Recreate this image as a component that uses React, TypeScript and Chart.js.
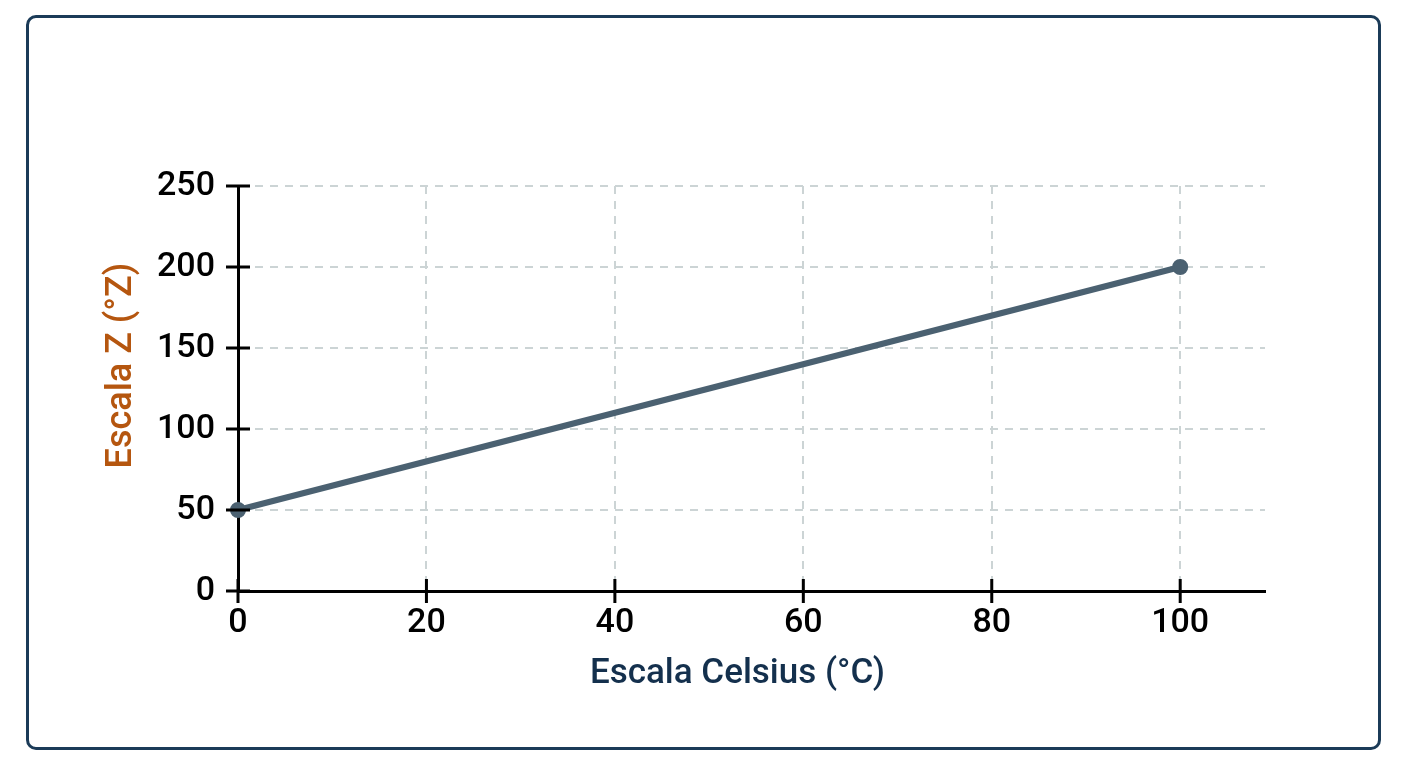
import React, { useEffect, useRef } from "react";
import { Chart, registerables } from "chart.js";

Chart.register(...registerables);

const celsius = [0, 100];
const zScale = [50, 200];
const xTicksMax = 109;
const yTicksMax = 250;
const xTitle = "Escala Celsius (°C)";
const yTitle = "Escala Z (°Z)";

const FONT = "Roboto, 'Noto Sans', sans-serif";

const crossTicks = {
  id: "crossTicks",
  afterDraw(chart: any) {
    const ctx = chart.ctx;
    const xs = chart.scales.x;
    const ys = chart.scales.y;
    const ca = chart.chartArea;
    ctx.save();
    ctx.strokeStyle = "#000";
    ctx.lineWidth = 3;
    ctx.beginPath();
    xs.ticks.forEach((t: any) => {
      const px = xs.getPixelForValue(t.value);
      ctx.moveTo(px, ca.bottom - 12);
      ctx.lineTo(px, ca.bottom + 12);
    });
    ys.ticks.forEach((t: any) => {
      const py = ys.getPixelForValue(t.value);
      ctx.moveTo(ca.left - 12, py);
      ctx.lineTo(ca.left + 12, py);
    });
    ctx.stroke();
    // titles
    ctx.fillStyle = "#14304d";
    ctx.font = `500 35px ${FONT}`;
    ctx.textAlign = "center";
    ctx.textBaseline = "middle";
    ctx.fillText(xTitle, (ca.left + ca.right) / 2 - 14, ca.bottom + 83);
    ctx.translate(ca.left - 116, (ca.top + ca.bottom) / 2 - 23);
    ctx.rotate(-Math.PI / 2);
    ctx.fillStyle = "#b5560f";
    ctx.font = `500 36px ${FONT}`;
    ctx.fillText(yTitle, 0, 0);
    ctx.restore();
  },
};

export default function App() {
  const ref = useRef<HTMLCanvasElement | null>(null);
  useEffect(() => {
    if (!ref.current) return;
    const chart = new Chart(ref.current, {
      type: "line",
      data: {
        datasets: [
          {
            data: celsius.map((c, i) => ({ x: c, y: zScale[i] })),
            borderColor: "#4b6171",
            backgroundColor: "#4b6171",
            borderWidth: 6,
            pointRadius: 7,
            pointBorderWidth: 2,
            pointBackgroundColor: "#4b6171",
            pointBorderColor: "#4b6171",
            clip: false as any,
          },
        ],
      },
      options: {
        animation: false,
        responsive: false,
        maintainAspectRatio: false,
        layout: { padding: { left: 0, top: 168, right: 113, bottom: 0 } },
        plugins: { legend: { display: false }, tooltip: { enabled: false } },
        scales: {
          x: {
            type: "linear",
            min: 0,
            max: xTicksMax,
            afterFit: (s: any) => {
              s.height = 156;
            },
            ticks: {
              stepSize: 20,
              includeBounds: false,
              color: "#000",
              font: { family: FONT, size: 34, weight: "500" as any },
              padding: 12,
              maxRotation: 0,
            },
            grid: {
              drawTicks: false,
              color: "#ccd4d5",
              lineWidth: 2,
            },
            border: { color: "#000", width: 3, dash: [8, 7] as any },
          },
          y: {
            type: "linear",
            min: 0,
            max: yTicksMax,
            afterFit: (s: any) => {
              s.width = 209;
            },
            ticks: {
              stepSize: 50,
              color: "#000",
              font: { family: FONT, size: 34, weight: "500" as any },
              padding: 23,
            },
            grid: {
              drawTicks: false,
              color: "#ccd4d5",
              lineWidth: 2,
            },
            border: { color: "#000", width: 3, dash: [8, 7] as any },
          },
        },
      },
      plugins: [crossTicks],
    });
    return () => chart.destroy();
  }, []);
  return (
    <div
      style={{
        position: "absolute",
        left: 26,
        top: 15,
        width: 1355,
        height: 735,
        boxSizing: "border-box",
        border: "3px solid #1b3b58",
        borderRadius: 10,
        background: "#fff",
      }}
    >
      <canvas ref={ref} width={1349} height={729} style={{ display: "block" }} />
    </div>
  );
}
